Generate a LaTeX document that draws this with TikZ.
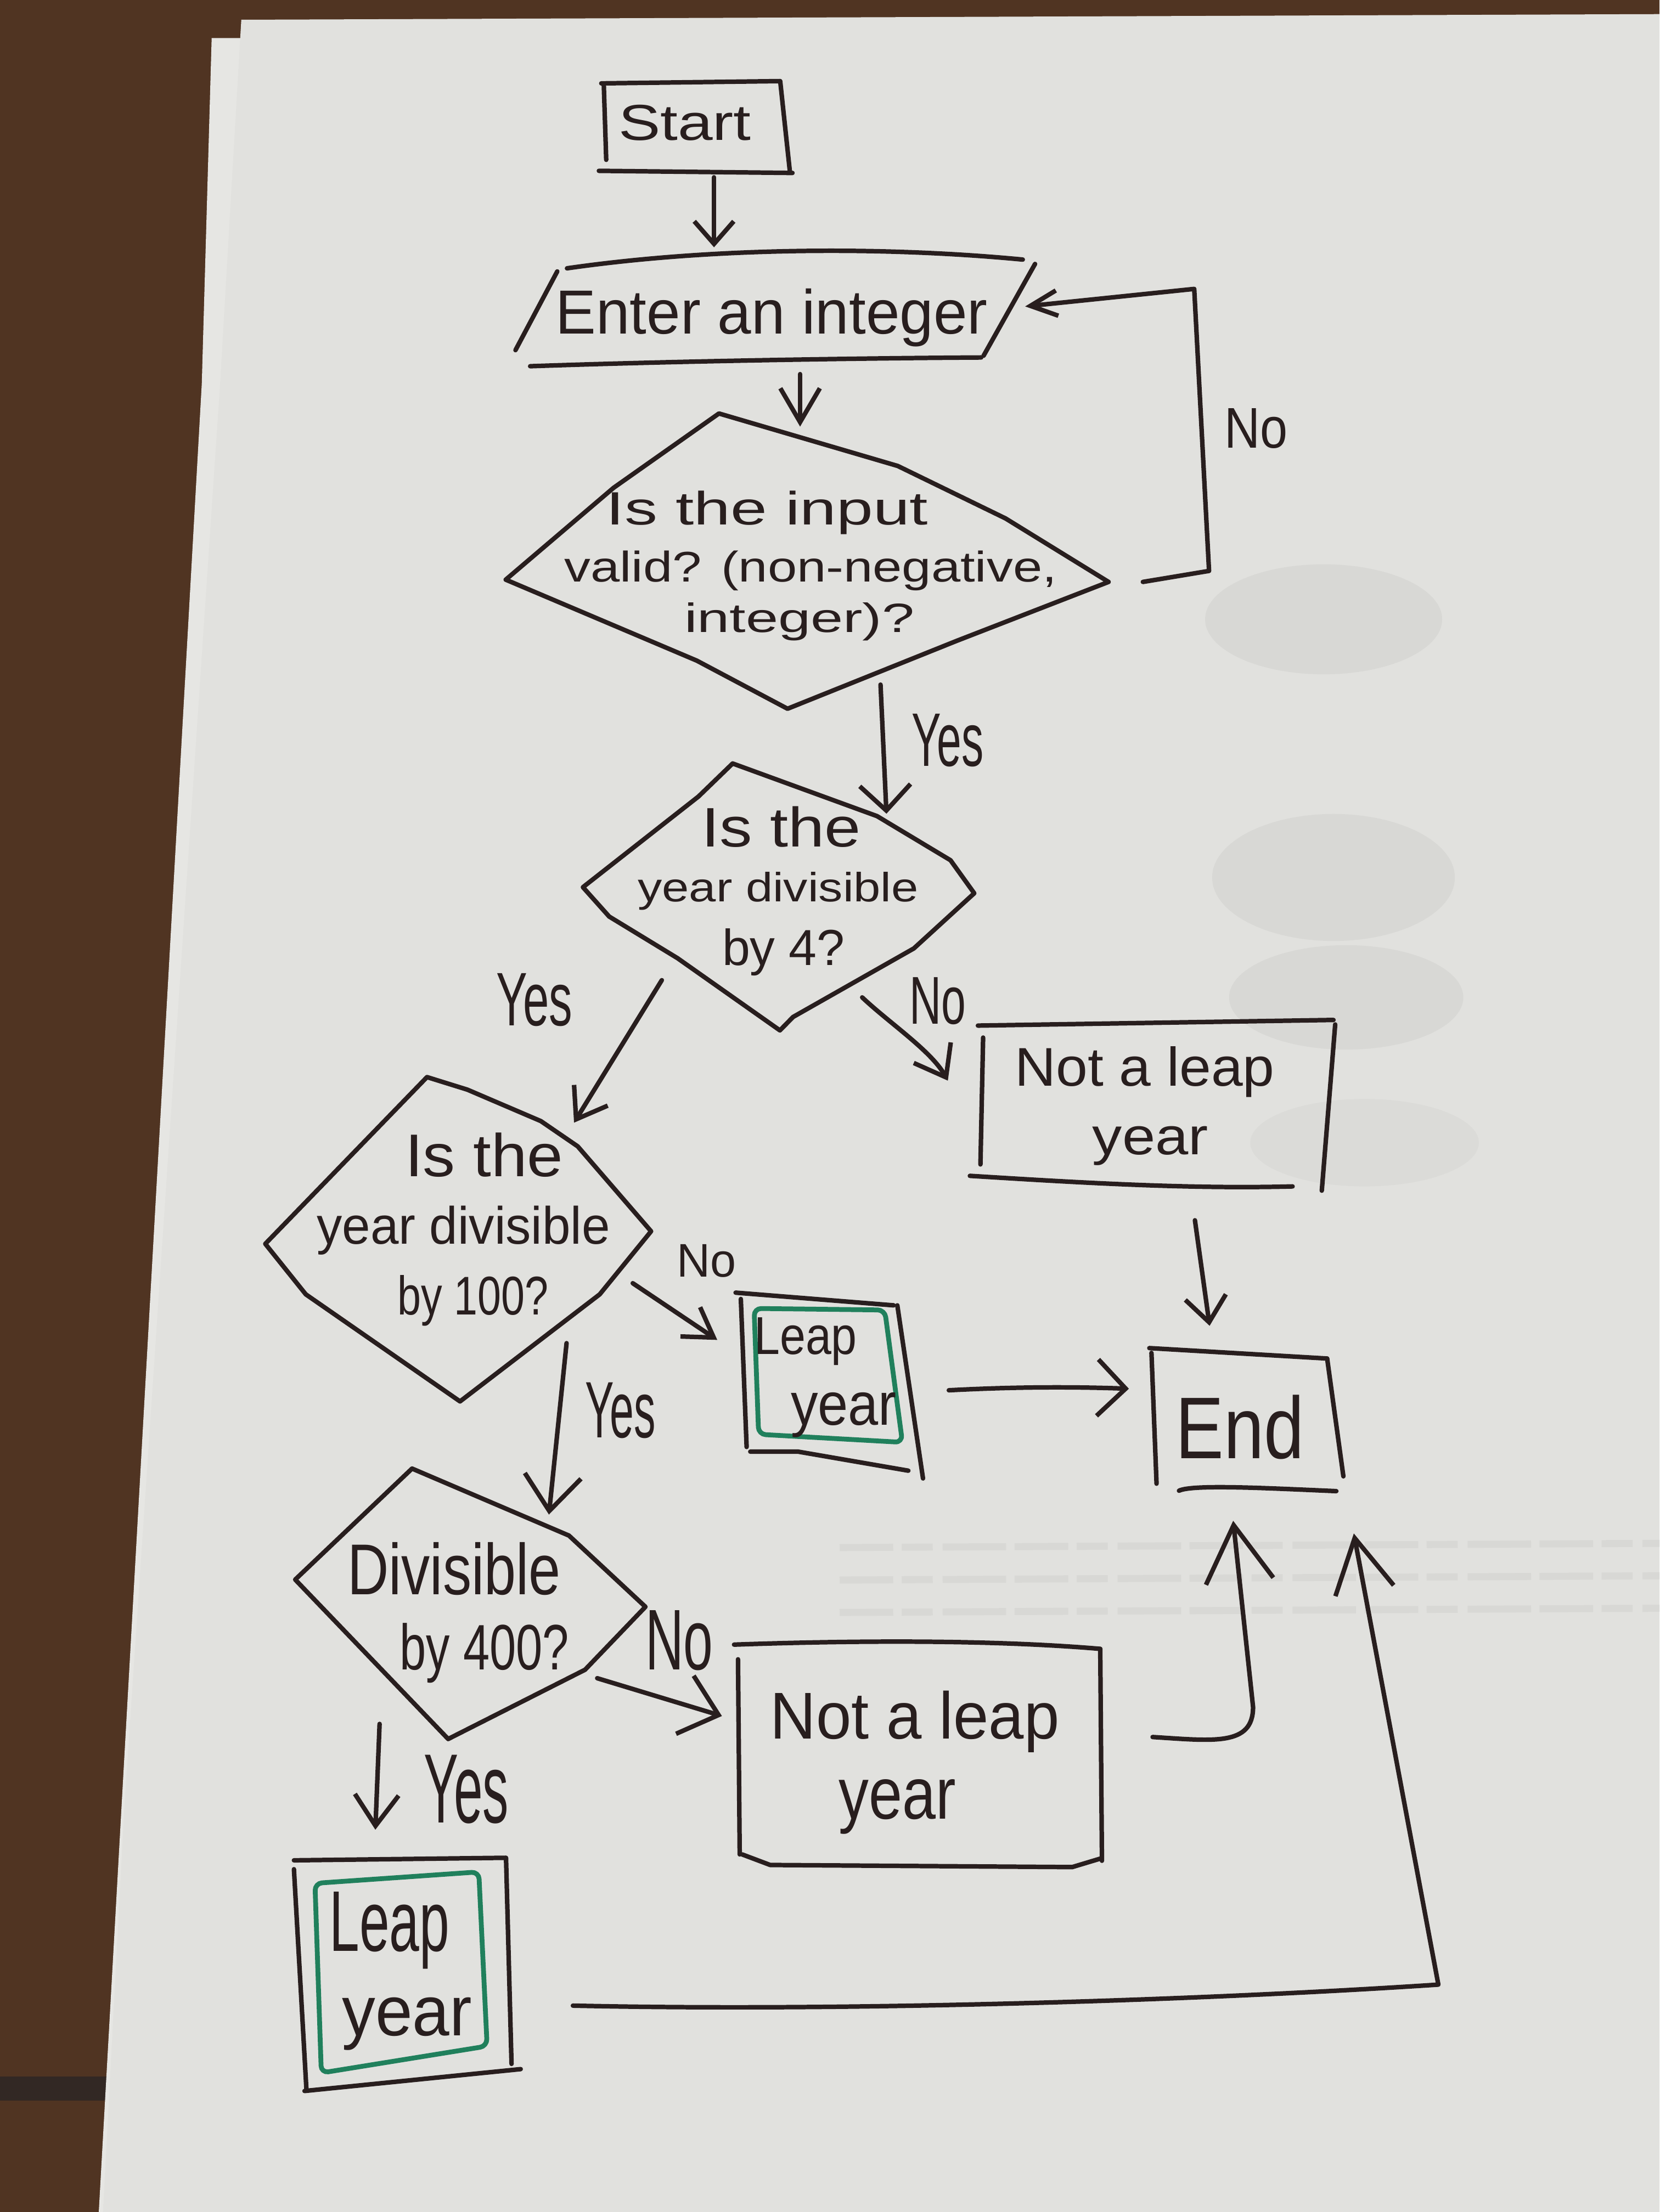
\documentclass[tikz,border=0pt]{standalone}
\usepackage{fontspec}
\setmainfont{Liberation Sans}
\usepackage{graphicx}
\usetikzlibrary{arrows.meta}

\definecolor{wood}{RGB}{80,52,34}
\definecolor{woodDark}{RGB}{50,40,36}
\definecolor{paper}{RGB}{225,225,222}
\definecolor{paperEdge}{RGB}{230,230,227}
\definecolor{ghost}{RGB}{216,216,213}
\definecolor{ink}{RGB}{40,30,30}
\definecolor{marker}{RGB}{32,128,92}

% handwritten word fitted to a given width and height (in pt)
\newcommand{\hw}[3]{\resizebox{#1pt}{#2pt}{#3}}

\tikzset{
  inkline/.style={draw=ink, line width=3.2pt, line cap=round, line join=round},
  greenline/.style={draw=marker, line width=3.4pt, line cap=round, line join=round, rounded corners=5pt},
  barb/.style args={#1/#2}{-{Straight Barb[length=#1pt,width=#2pt]}},
  hand/.style={inner sep=0pt, outer sep=0pt, anchor=base west, text=ink},
}

\begin{document}
\begin{tikzpicture}[x=1pt,y=-1pt]
\useasboundingbox (0,0) rectangle (1176,1568);

% table and sheets of paper
\fill[wood] (0,0) rectangle (1176,1568);
\fill[woodDark] (0,1472) rectangle (95,1489);
\fill[paperEdge] (150,27) -- (185,27) -- (185,1568) -- (70,1568) -- (86,1283) -- (143,272) -- cycle;
\fill[paper] (171,14) -- (1176,10) -- (1176,1568) -- (73,1568) -- (88,1283) -- (156,272) -- cycle;

% print showing through from the back of the sheet
\fill[ghost] (938,439) ellipse [x radius=84, y radius=39];
\fill[ghost] (945,622) ellipse [x radius=86, y radius=45];
\fill[ghost] (954,707) ellipse [x radius=83, y radius=37];
\fill[ghost, opacity=0.6] (967,810) ellipse [x radius=81, y radius=31];
\foreach \yy in {1097,1120,1143}
  \draw[ghost, line width=5pt, dash pattern=on 38pt off 6pt on 22pt off 7pt on 45pt off 6pt]
    (595,\yy) -- (1176,\yy-3);

% ---------------- anchor points of the hand-drawn shapes ----------------
\coordinate (start-s) at (506,125.7);
\coordinate (enter-n) at (506,175.3);
\coordinate (enter-s) at (567,265.2);
\coordinate (enter-e) at (726.5,217.2);
\coordinate (d1-n) at (567,302.4);
\coordinate (d1-e) at (809.9,412.5);
\coordinate (d1-s) at (624,485.3);
\coordinate (d2-n) at (628.2,576.8);
\coordinate (d2-se) at (611,707);
\coordinate (d2-sw) at (469,694.8);
\coordinate (nl1-w) at (671.7,766);
\coordinate (nl1-s) at (846.8,865);
\coordinate (d3-ne) at (406.8,795.8);
\coordinate (d3-e) at (448.4,909.6);
\coordinate (d3-s) at (401.5,952.1);
\coordinate (leap1-w) at (508.3,949.8);
\coordinate (leap1-e) at (672.4,985.5);
\coordinate (end-n) at (857.2,939.8);
\coordinate (end-w) at (800,984.4);
\coordinate (end-s1) at (873.9,1078);
\coordinate (end-s2) at (959.4,1087);
\coordinate (d4-n) at (389,1073.6);
\coordinate (d4-e) at (423.2,1189.6);
\coordinate (d4-s) at (269,1222);
\coordinate (nl2-w) at (511.6,1216.4);
\coordinate (nl2-e) at (816.8,1231.3);
\coordinate (leap2-n) at (266,1297);
\coordinate (leap2-e) at (406,1421.7);

% ---------------- shapes ----------------
% Start
\draw[inkline] (426.1,59.1) -- (552.9,57.5) -- (559.8,122);
\draw[inkline] (424.4,121.1) -- (561.6,122.6);
\draw[inkline] (427.9,60.6) -- (429.6,113.3);

% Enter an integer (input)
\draw[inkline] (401.8,190.2) .. controls (500,176) and (620,174) .. (724.8,184);
\draw[inkline] (733.5,187.1) -- (697,252.2);
\draw[inkline] (394.9,192.4) -- (365.3,248.2);
\draw[inkline] (375.7,259.6) .. controls (480,256) and (600,254) .. (695.3,253.4);

% decision: valid input
\draw[inkline] (509.5,293.1) -- (636.2,330.3) -- (712.6,367.5) -- (785.6,412.5)
  -- (677.9,454.3) -- (558.1,502.4) -- (493.8,468.3) -- (358.4,410.9)
  -- (434.8,345.8) -- cycle;

% decision: divisible by 4
\draw[inkline] (519.2,541.2) -- (621.5,578.5) -- (673.6,609.8) -- (690.4,633.2)
  -- (647.6,672.3) -- (562,720.9) -- (552.7,730.4) -- (480.1,679.2)
  -- (431.7,649.7) -- (413.1,628.9) -- (495,564.6) -- cycle;

% Not a leap year (upper)
\draw[inkline] (693,727) -- (945,723);
\draw[inkline] (696.7,735.5) -- (694.8,825.4);
\draw[inkline] (946.2,726.2) -- (936.7,844);
\draw[inkline] (687.3,833.5) .. controls (760,838) and (840,843) .. (916,841);

% decision: divisible by 100
\draw[inkline] (302.6,763.5) -- (331.2,772.4) -- (383.3,794.7) -- (409.4,812.6)
  -- (461.4,872.8) -- (425,917.5) -- (326,993.4) -- (216.7,917.5)
  -- (188,881.7) -- cycle;

% Leap year (upper)
\draw[inkline] (521.3,916.3) -- (633.3,925.3);
\draw[inkline] (525,920.8) -- (529.1,1025.7);
\draw[inkline] (635.9,925.3) -- (654.1,1048);
\draw[inkline] (531.7,1029) -- (565.6,1029) -- (643.7,1042.5);
\draw[greenline] (534.4,927.5) -- (627,928.6) -- (639.5,1022.4) -- (537.6,1016.7) -- cycle;

% End
\draw[inkline] (814.5,955.6) -- (940.5,963);
\draw[inkline] (940.5,963) -- (952,1046.5);
\draw[inkline] (816,959) -- (819.6,1051.7);
\draw[inkline] (835.5,1056.7) .. controls (845,1052) and (900,1055) .. (947,1057);

% decision: divisible by 400
\draw[inkline] (292,1041) -- (403.2,1088.5) -- (457.4,1139) -- (414.6,1183.6)
  -- (317.6,1232.7) -- (209.2,1119.7) -- cycle;

% Not a leap year (lower)
\draw[inkline] (520.2,1165.8) .. controls (600,1163) and (700,1162) .. (779.7,1168.8);
\draw[inkline] (523,1176.2) -- (524.2,1314.5);
\draw[inkline] (779.7,1168.8) -- (780.9,1319);
\draw[inkline] (525.9,1314.5) -- (545.8,1322) -- (759.8,1323.5) -- (779.7,1317.5);

% Leap year (lower)
\draw[inkline] (208.3,1318.7) -- (358.6,1316.9) -- (362.5,1463);
\draw[inkline] (208.3,1325) -- (217.2,1482);
\draw[inkline] (215.8,1482.2) -- (369,1466.7);
\draw[greenline] (223.2,1335) -- (339.3,1326.9) -- (345.2,1450.4) -- (227.7,1469.4) -- cycle;

% ---------------- texts ----------------
\node[hand] (tStart) at (438.3,99.3) {\hw{94}{25}{Start}};
\node[hand] (tEnter) at (393.8,236.7) {\hw{306}{32}{Enter an integer}};
\node[hand] (tValidA) at (429.6,372) {\hw{228}{24}{Is the input}};
\node[hand] (tValidB) at (400,412.5) {\hw{349}{22}{valid? (non-negative,}};
\node[hand] (tValidC) at (485,448) {\hw{163}{21}{integer)?}};
\node[hand] (tNoLoop) at (867.9,317.6) {\hw{44.7}{28}{No}};
\node[hand] (tYesA) at (646,543) {\hw{51}{37}{Yes}};
\node[hand] (tFourA) at (497,600.2) {\hw{113}{28.6}{Is the}};
\node[hand] (tFourB) at (452,639) {\hw{199}{21}{year divisible}};
\node[hand] (tFourC) at (511.8,684.4) {\hw{87}{26}{by 4?}};
\node[hand] (tYesB) at (351.7,727) {\hw{54}{37}{Yes}};
\node[hand] (tNoB) at (644.5,726) {\hw{40}{33}{No}};
\node[hand] (tNotA1) at (719.3,769.8) {\hw{184}{28}{Not a leap}};
\node[hand] (tNotA2) at (774.2,818.6) {\hw{82}{20}{year}};
\node[hand] (tHundA) at (287,833.8) {\hw{112}{31}{Is the}};
\node[hand] (tHundB) at (224.5,881.8) {\hw{208}{27}{year divisible}};
\node[hand] (tHundC) at (281.8,932) {\hw{107}{28}{by 100?}};
\node[hand] (tNoC) at (479.7,905.2) {\hw{42}{23}{No}};
\node[hand] (tYesC) at (414.6,1019) {\hw{50}{39}{Yes}};
\node[hand] (tLeapA1) at (534.4,959.9) {\hw{73}{26}{Leap}};
\node[hand] (tLeapA2) at (560.4,1010) {\hw{75}{23}{year}};
\node[hand] (tEnd) at (833.3,1034) {\hw{91}{45}{End}};
\node[hand] (tFourHA) at (246.3,1130.1) {\hw{151}{37}{Divisible}};
\node[hand] (tFourHB) at (283.4,1183.6) {\hw{120}{33}{by 400?}};
\node[hand] (tNoD) at (457.4,1183.6) {\hw{48}{42}{No}};
\node[hand] (tNotB1) at (545.8,1232.7) {\hw{205}{34}{Not a leap}};
\node[hand] (tNotB2) at (594.3,1289.3) {\hw{83}{28}{year}};
\node[hand] (tYesD) at (300.5,1292.2) {\hw{60}{48}{Yes}};
\node[hand] (tLeapB1) at (233.6,1383.2) {\hw{85}{42}{Leap}};
\node[hand] (tLeapB2) at (242.5,1443.1) {\hw{92}{27}{year}};

% ---------------- connectors ----------------
\draw[inkline, barb=16/28] (start-s) -- (enter-n);
\draw[inkline, barb=24/28] (enter-s) -- (d1-n);
\draw[inkline, barb=19/18] (d1-e) -- (856.8,404.7) -- (846.3,204.8) -- (enter-e);
\draw[inkline, barb=18/36] (d1-s) -- (d2-n);
\draw[inkline, barb=20/30] (d2-se) .. controls (630,725) and (660,745) .. (nl1-w);
\draw[inkline, barb=20/28] (d2-sw) -- (d3-ne);
\draw[inkline, barb=18/29] (nl1-s) -- (end-n);
\draw[inkline, barb=20/25] (d3-e) -- (leap1-w);
\draw[inkline, barb=20/40] (leap1-e) .. controls (720,983) and (760,983) .. (end-w);
\draw[inkline, barb=25/40] (d3-s) -- (d4-n);
\draw[inkline, barb=25/43] (d4-e) -- (nl2-w);
\draw[inkline, barb=40/48] (nl2-e) .. controls (860,1234) and (888,1238) .. (888,1210) -- (end-s1);
\draw[inkline, barb=22/31] (d4-s) -- (leap2-n);
\draw[inkline, barb=38/42] (leap2-e) .. controls (600,1426) and (850,1418) .. (1019.3,1406.8) -- (end-s2);

\end{tikzpicture}
\end{document}
